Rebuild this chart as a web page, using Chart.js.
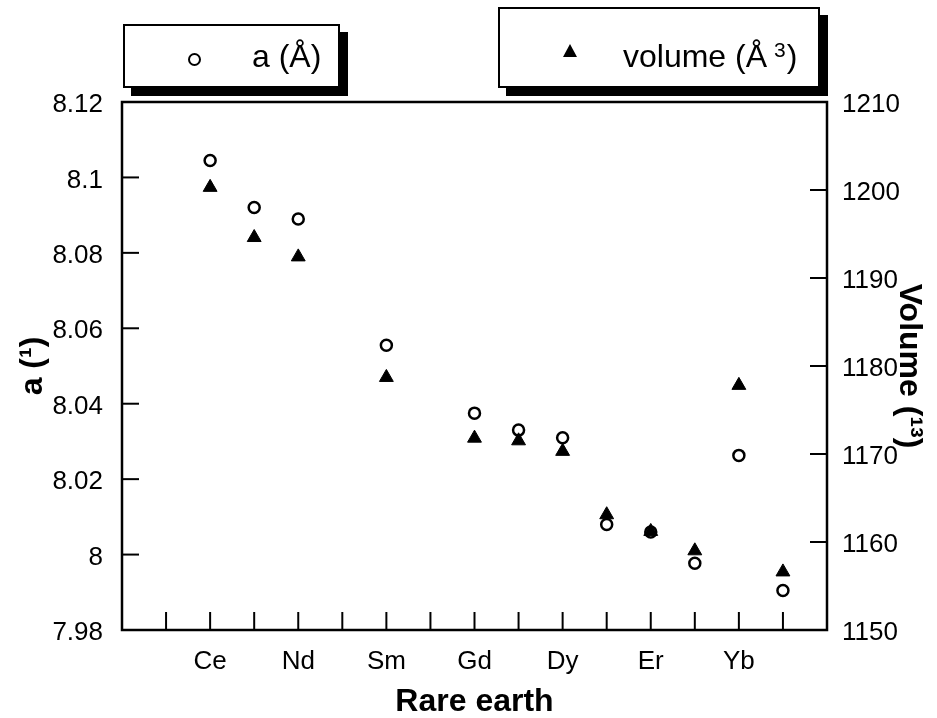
<!DOCTYPE html>
<html>
<head>
<meta charset="utf-8">
<script src="https://cdn.jsdelivr.net/npm/chart.js@4.4.1/dist/chart.umd.min.js"></script>
<style>
  html, body { margin:0; padding:0; background:#fff; }
  #wrap { position:relative; width:937px; height:718px; font-family:"Liberation Sans", Arial, sans-serif; }
  #chart { position:absolute; left:0; top:0; }
  .lgd { position:absolute; box-sizing:border-box; border:2.5px solid #000; background:#fff; box-shadow:8px 8px 0 #000; }
  .lgd .txt { position:absolute; font-size:32px; line-height:32px; color:#000; white-space:nowrap; }
  .circ { position:absolute; width:13px; height:13px; box-sizing:border-box; border:2.5px solid #000; border-radius:50%; background:#fff; }
  .tri { position:absolute; width:0; height:0; border-left:7px solid transparent; border-right:7px solid transparent; border-bottom:13px solid #000; }
  sup { font-size:21px; vertical-align:top; position:relative; top:-6px; margin-left:7px; margin-right:1px; }
</style>
</head>
<body>
<div id="wrap">
  <canvas id="chart" width="937" height="718"></canvas>
  <div class="lgd" style="left:123px; top:24px; width:217px; height:64px;">
    <div class="circ" style="left:63px; top:27px;"></div>
    <div class="txt" style="left:127px; top:14px;">a (Å)</div>
  </div>
  <div class="lgd" style="left:498px; top:7px; width:322px; height:81px;">
    <div class="tri" style="left:63px; top:35px;"></div>
    <div class="txt" style="left:123px; top:31px;">volume (Å<sup>3</sup>)</div>
  </div>
</div>
<script>
const elements      = ["Ce","Pr","Nd","Sm","Gd","Tb","Dy","Ho","Er","Tm","Yb","Lu"];
const atomicNumbers = [58, 59, 60, 62, 64, 65, 66, 67, 68, 69, 70, 71];
const latticeA      = [8.1045, 8.0920, 8.0890, 8.0555, 8.0375, 8.0330, 8.0310, 8.0080, 8.0060, 7.9977, 8.0263, 7.9905];
const cellVolume    = [1200.3, 1194.6, 1192.4, 1178.7, 1171.8, 1171.5, 1170.3, 1163.1, 1161.2, 1159.0, 1177.8, 1156.6];
const xTickLabels   = ["Ce","Nd","Sm","Gd","Dy","Er","Yb"];

const FONT = "'Liberation Sans', Arial, sans-serif";

function xLabel(v){
  const i = atomicNumbers.indexOf(v);
  return (i >= 0 && xTickLabels.includes(elements[i])) ? elements[i] : "";
}

// inward tick marks + frame, placed from the chart's own scales
const frameTicks = {
  id:"frameTicks",
  afterDraw(chart){
    const { ctx, chartArea:a, scales } = chart;
    const line = (x1,y1,x2,y2) => { ctx.beginPath(); ctx.moveTo(x1,y1); ctx.lineTo(x2,y2); ctx.stroke(); };
    ctx.save();
    ctx.strokeStyle = "#000";
    ctx.lineWidth = 2;
    scales.x.ticks.forEach(t => { const p = scales.x.getPixelForValue(t.value); line(p, a.bottom, p, a.bottom-18); });
    scales.yA.ticks.forEach(t => { const p = scales.yA.getPixelForValue(t.value); line(a.left, p, a.left+17, p); });
    scales.yV.ticks.forEach(t => { const p = scales.yV.getPixelForValue(t.value); line(a.right, p, a.right-17, p); });
    ctx.lineWidth = 2.5;
    ctx.strokeRect(a.left, a.top, a.right-a.left, a.bottom-a.top);
    ctx.restore();
  }
};

const tickFont = { family:FONT, size:26 };
const titleFont = { family:FONT, size:32, weight:"bold", lineHeight:1 };

new Chart(document.getElementById("chart"), {
  type:"scatter",
  data:{ datasets:[
    { label:"volume (Å3)", yAxisID:"yV", order:0,
      data: atomicNumbers.map((x,i)=>({ x, y:cellVolume[i] })),
      pointStyle:"triangle", pointRadius:8, pointBorderWidth:1,
      pointBackgroundColor:"#000", pointBorderColor:"#000" },
    { label:"a (Å)", yAxisID:"yA", order:1,
      data: atomicNumbers.map((x,i)=>({ x, y:latticeA[i] })),
      pointStyle:"circle", pointRadius:5.5, pointBorderWidth:2.5,
      pointBackgroundColor:"#fff", pointBorderColor:"#000" },
  ]},
  options:{
    responsive:false, animation:false, devicePixelRatio:1,
    layout:{ padding:{ top:102, left:0, right:0, bottom:0 } },
    plugins:{ legend:{ display:false }, tooltip:{ enabled:false } },
    scales:{
      x:{ type:"linear", position:"bottom", min:56, max:72,
        grid:{ display:false, drawTicks:false }, border:{ display:false },
        ticks:{ stepSize:1, autoSkip:false, maxRotation:0, padding:16, color:"#000", font:tickFont, callback:v=>xLabel(v) },
        title:{ display:true, text:"Rare earth", color:"#000", font:titleFont, padding:{ top:0, bottom:0 } },
        afterFit:s=>{ s.height = 88; } },
      yA:{ type:"linear", position:"left", min:7.98, max:8.12,
        grid:{ display:false, drawTicks:false }, border:{ display:false },
        ticks:{ stepSize:0.02, padding:19, labelOffset:3, color:"#000", font:tickFont, callback:v=>String(+v.toFixed(2)) },
        title:{ display:true, text:"a (¹)", color:"#000", font:titleFont, padding:{ top:17, bottom:0 } },
        afterFit:s=>{ s.width = 122; } },
      yV:{ type:"linear", position:"right", min:1150, max:1210,
        grid:{ display:false, drawTicks:false }, border:{ display:false },
        ticks:{ stepSize:10, padding:15, labelOffset:3, color:"#000", font:tickFont, callback:v=>String(v) },
        title:{ display:true, text:"Volume (¹³)", color:"#000", font:titleFont, padding:{ top:12, bottom:0 } },
        afterFit:s=>{ s.width = 110; } }
    }
  },
  plugins:[frameTicks]
});
</script>
</body>
</html>
